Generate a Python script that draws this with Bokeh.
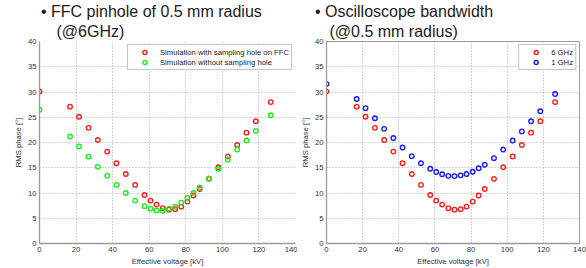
from bokeh.plotting import figure
from bokeh.models import Range1d, FixedTicker, Title
from bokeh.layouts import row
from bokeh.embed import file_html
from bokeh.resources import INLINE

# ---- data ----
voltage = [0, 16.7, 21.6, 26.8, 31.9, 37.0, 42.1, 47.2, 52.3, 57.4, 60.7, 64.0, 67.4,
           70.8, 74.2, 77.5, 80.9, 84.2, 87.6, 92.7, 97.8, 103.0, 108.1, 113.2, 118.3, 126.5]
rms_6ghz_hole = [30.1, 27.1, 25.1, 22.9, 20.5, 18.2, 15.9, 13.75, 11.6, 9.6, 8.5, 7.7, 7.0,
                 6.7, 6.8, 7.3, 8.3, 9.5, 10.8, 12.8, 15.1, 17.25, 19.5, 21.95, 24.2, 28.0]
rms_no_hole = [26.5, 21.2, 19.2, 17.2, 15.2, 13.4, 11.6, 10.0, 8.5, 7.4, 6.9, 6.55, 6.5,
               6.9, 7.3, 8.1, 9.0, 10.0, 11.1, 12.9, 14.8, 16.6, 18.6, 20.4, 22.3, 25.4]
rms_1ghz = [31.6, 28.6, 26.8, 24.8, 22.7, 20.9, 19.0, 17.3, 15.9, 14.8, 14.15, 13.7, 13.4,
            13.35, 13.5, 13.75, 14.2, 14.9, 15.6, 16.9, 18.6, 20.4, 22.2, 24.2, 26.2, 29.6]

x_ticks = [0, 20, 40, 60, 80, 100, 120, 140]
y_ticks = [0, 5, 10, 15, 20, 25, 30, 35, 40]

left_title = ["FFC pinhole of 0.5 mm radius", "(@6GHz)"]
right_title = ["Oscilloscope bandwidth", "(@0.5 mm radius)"]
left_legend = ["Simulation with sampling hole on FFC", "Simulation without sampling hole"]
right_legend = ["6 GHz", "1 GHz"]

x_label = "Effective voltage [kV]"
y_label = "RMS phase [°]"

FONT = "Liberation Sans"
RED, GREEN, BLUE = "#ff1a1a", "#1aee1a", "#1a1aff"


def make_fig(border_left, border_right, outline, fw):
    p = figure(output_backend="svg", toolbar_location=None,
               frame_width=fw, frame_height=202,
               min_border_left=border_left, min_border_right=border_right,
               min_border_top=41, min_border_bottom=23,
               x_range=Range1d(0, 140), y_range=Range1d(0, 40),
               background_fill_color="white", border_fill_color="white")
    p.xaxis.ticker = FixedTicker(ticks=x_ticks)
    p.yaxis.ticker = FixedTicker(ticks=y_ticks)
    for ax in (p.xaxis, p.yaxis):
        ax.major_tick_in = 0
        ax.major_tick_out = 0
        ax.minor_tick_in = 0
        ax.minor_tick_out = 0
        ax.axis_line_color = "#9a9a9a"
        ax.axis_line_width = 1.3
        ax.major_label_text_font = FONT
        ax.major_label_text_font_size = "7.7px"
        ax.major_label_text_color = "#333333"
        ax.axis_label_text_font = FONT
        ax.axis_label_text_font_size = "7.7px"
        ax.axis_label_text_font_style = "normal"
        ax.axis_label_text_color = "#333333"
    p.xaxis.major_label_standoff = 3
    p.xaxis.axis_label_standoff = 2
    p.yaxis.major_label_standoff = 3
    p.yaxis.axis_label_standoff = 2
    p.xaxis.axis_label = x_label
    p.yaxis.axis_label = y_label
    for g in (p.xgrid, p.ygrid):
        g.grid_line_color = "#a8a8a8"
        g.grid_line_dash = "1 2"
        g.grid_line_width = 1
    if outline:
        p.outline_line_color = "#9a9a9a"
        p.outline_line_width = 1
    else:
        p.outline_line_color = None
    return p


def add_title(p, lines, first_dx, second_dx):
    common = dict(text_font=FONT, text_font_size="16px", text_color="#1a1a1a",
                  text_font_style="normal", align="left")
    # added first = closest to the frame
    p.add_layout(Title(text=lines[1], offset=second_dx, standoff=3, **common), "above")
    p.add_layout(Title(text="\u2022  " + lines[0], offset=first_dx, standoff=0, **common), "above")


def style_legend(p):
    lg = p.legend[0]
    lg.location = "top_right"
    lg.margin = 3
    lg.padding = 2
    lg.spacing = 0
    lg.label_height = 10
    lg.glyph_height = 10
    lg.glyph_width = 29
    lg.label_standoff = 1
    lg.label_text_font = FONT
    lg.label_text_font_size = "7.7px"
    lg.label_text_color = "#222222"
    lg.border_line_color = "#8c8c8c"
    lg.border_line_width = 1
    lg.background_fill_color = "white"
    lg.background_fill_alpha = 1


# ---- left chart ----
p1 = make_fig(39, 2, outline=False, fw=256)
p1.scatter(voltage, rms_6ghz_hole, marker="circle", size=4.5, fill_color=None,
           line_color=RED, line_width=1.4, legend_label=left_legend[0])
p1.scatter(voltage, rms_no_hole, marker="circle", size=4.5, fill_color=None,
           line_color=GREEN, line_width=1.4, legend_label=left_legend[1])
style_legend(p1)
add_title(p1, left_title, 1.5, 17)

# ---- right chart ----
p2 = make_fig(24, 12, outline=True, fw=253)
p2.scatter(voltage, rms_6ghz_hole, marker="circle", size=4.5, fill_color=None,
           line_color=RED, line_width=1.4, legend_label=right_legend[0])
p2.scatter(voltage, rms_1ghz, marker="circle", size=4.5, fill_color=None,
           line_color=BLUE, line_width=1.4, legend_label=right_legend[1])
style_legend(p2)
add_title(p2, right_title, -11.5, 3)

layout = row(p1, p2, spacing=0)

open("out.html", "w").write(file_html(layout, INLINE))
